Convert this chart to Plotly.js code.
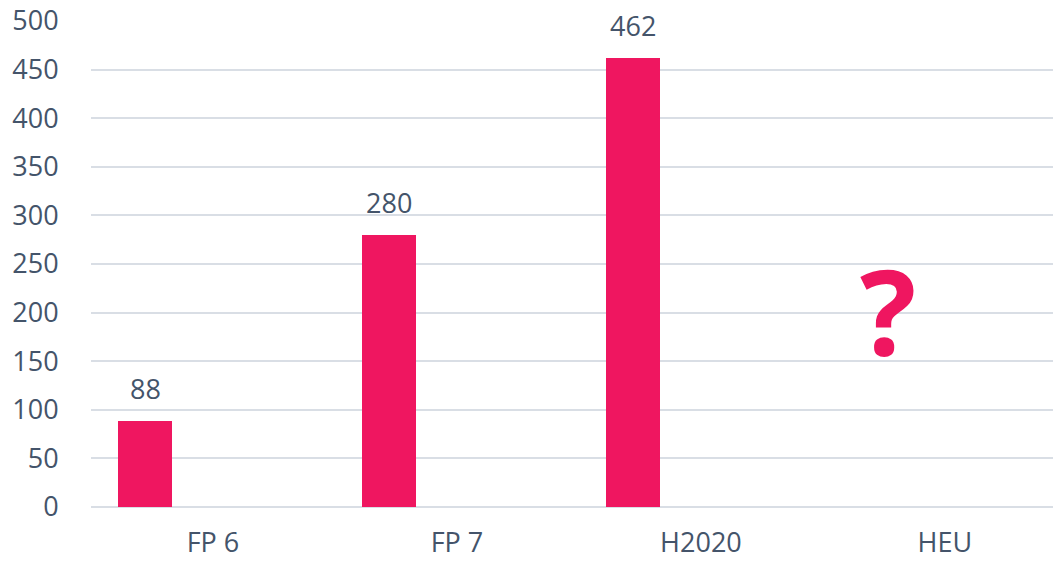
<!DOCTYPE html>
<html>
<head>
<meta charset="utf-8">
<script src="https://cdn.plot.ly/plotly-3.0.1.min.js"></script>
<style>html,body{margin:0;padding:0;background:#fff;}#chart{width:1053px;height:561px;}</style>
</head>
<body>
<div id="chart"></div>
<script>
const categories = ["FP 6", "FP 7", "H2020", "HEU"];
const values = [88, 280, 462, null];
const valueLabels = ["88", "280", "462", ""];
const unknownLabel = "?";
const unknownIndex = 3;
const unknownY = 203;

const barColor = "#EF1660";
const textColor = "#44546A";
const gridColor = "#D9DEE5";
const fontFam = "'Open Sans', sans-serif";

const barOffset = -0.389;
const barWidth = 0.221;

const trace = {
  type: "bar",
  x: categories,
  y: values,
  offset: barOffset,
  width: barWidth,
  marker: {color: barColor},
  hoverinfo: "skip"
};

const annotations = [];
values.forEach((v, i) => {
  if (v !== null) {
    annotations.push({
      x: i + barOffset + barWidth / 2,
      y: v,
      xref: "x", yref: "y",
      text: valueLabels[i],
      showarrow: false,
      yanchor: "bottom",
      yshift: 12,
      font: {family: fontFam, size: 27, color: textColor}
    });
  }
});
annotations.push({
  x: unknownIndex - 0.234,
  y: unknownY,
  xref: "x", yref: "y",
  text: "<b>" + unknownLabel + "</b>",
  showarrow: false,
  yanchor: "middle",
  font: {family: fontFam, size: 118, color: barColor}
});

const layout = {
  width: 1053, height: 561,
  margin: {l: 91, r: 0, t: 21, b: 54, pad: 0},
  paper_bgcolor: "#ffffff",
  plot_bgcolor: "#ffffff",
  showlegend: false,
  bargap: 0,
  xaxis: {
    type: "category",
    range: [-0.5, 3.443],
    showgrid: false,
    showline: false,
    zeroline: false,
    ticks: "outside",
    ticklen: 12,
    tickcolor: "rgba(0,0,0,0)",
    tickfont: {family: fontFam, size: 27, color: textColor},
    fixedrange: true
  },
  yaxis: {
    range: [0, 500],
    dtick: 50,
    showgrid: true,
    gridcolor: gridColor,
    gridwidth: 2,
    zeroline: true,
    zerolinecolor: gridColor,
    zerolinewidth: 2,
    showline: false,
    ticks: "outside",
    ticklen: 26,
    tickcolor: "rgba(0,0,0,0)",
    tickfont: {family: fontFam, size: 27, color: textColor},
    fixedrange: true
  },
  annotations: annotations
};

Plotly.newPlot("chart", [trace], layout, {displayModeBar: false, staticPlot: true});
</script>
</body>
</html>
